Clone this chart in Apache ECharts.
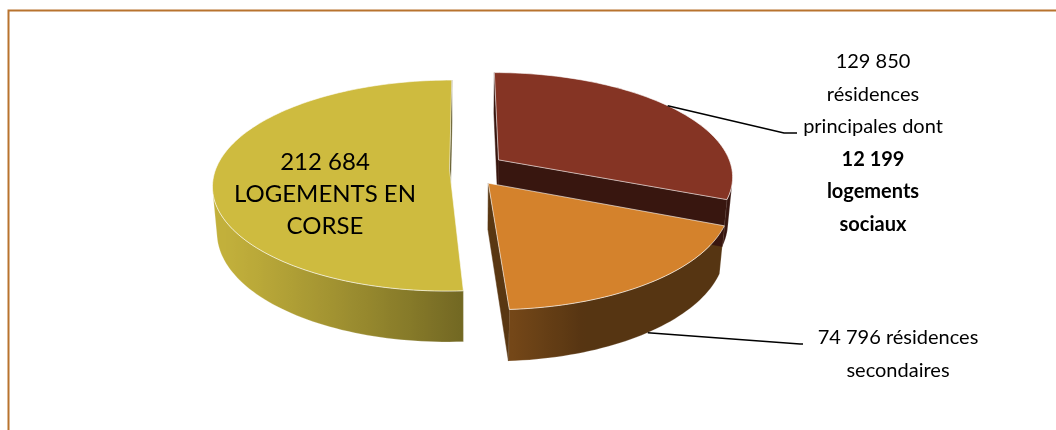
<!DOCTYPE html>
<html>
<head>
<meta charset="utf-8">
<script src="https://cdn.jsdelivr.net/npm/echarts@6/dist/echarts.min.js"></script>
<style>
  html, body { margin: 0; padding: 0; background: #fff; }
  #chart { width: 1056px; height: 430px; }
</style>
</head>
<body>
<div id="chart"></div>
<script>
// données (ordre des parts : dans le sens horaire à partir de midi)
const categories = ['résidences principales', 'résidences secondaires', 'LOGEMENTS EN CORSE'];
const values = [129850, 74796, 212684];
const socialHousing = 12199;

// style
const sliceColors = ['#853424', '#d4822c', '#cebb3f'];
const explode = [0.17, 0.16, 0.07];
const FONT = 'Lato, "Open Sans", sans-serif';

// vue 3D simulée
const RAD = Math.PI / 180;
const VIEW = { cx: 466, cy: 215, S: 230, phi: 28 * RAD, D: 6, h: 0.22 };
const LX = -0.94, LY = -0.33;   // lumière venant de la gauche

const fmt = v => String(v).replace(/\B(?=(\d{3})+(?!\d))/g, ' ');

function project(X, Y, Z) {
  const c = Math.cos(VIEW.phi), s = Math.sin(VIEW.phi);
  const depth = Y * c - Z * s;
  const v = Y * s + Z * c;
  const k = VIEW.D / (VIEW.D + depth);
  return [VIEW.cx + VIEW.S * X * k, VIEW.cy - VIEW.S * v * k];
}

function shade(hex, f) {
  const n = parseInt(hex.slice(1), 16);
  const ch = [(n >> 16) & 255, (n >> 8) & 255, n & 255].map(c => Math.max(0, Math.min(255, Math.round(c * f))));
  return 'rgb(' + ch.join(',') + ')';
}

// étiquettes
const labelTexts = [
  fmt(values[0]) + '\nrésidences\nprincipales dont\n{b|' + fmt(socialHousing) + '}\n{b|logements}\n{b|sociaux}',
  fmt(values[1]) + ' résidences\nsecondaires',
  fmt(values[2]) + '\nLOGEMENTS EN\nCORSE'
];
const labelLayout = [
  { x: 873, y: 143, size: 20, lh: 32.5, anchor: 36, anchorZ: 1, elbow: [784, 133], end: [797, 133] },
  { x: 898, y: 354, size: 20, lh: 33, anchor: -54, anchorZ: 0, elbow: [800, 344], end: [803, 344] },
  { x: 325, y: 194, size: 24, lh: 32 }
];

function renderSlice(params, api) {
  const i = params.dataIndex;
  const total = values.reduce((a, b) => a + b, 0);
  let before = 0;
  for (let j = 0; j < i; j++) before += values[j];
  const v = api.value(0);
  const a0 = (90 - 360 * before / total) * RAD;
  const a1 = a0 - 360 * v / total * RAD;
  const mid = (a0 + a1) / 2;
  const ox = explode[i] * Math.cos(mid), oy = explode[i] * Math.sin(mid);
  const h = VIEW.h;
  const rim = (t, z) => project(ox + Math.cos(t), oy + Math.sin(t), z);
  const apex = z => project(ox, oy, z);
  const cam = [0, -VIEW.D * Math.cos(VIEW.phi), VIEW.D * Math.sin(VIEW.phi)];
  const facing = (n, p) => n[0] * (cam[0] - p[0]) + n[1] * (cam[1] - p[1]) + n[2] * (cam[2] - p[2]) > 0;
  const top = sliceColors[i];
  const steps = Math.max(8, Math.ceil(Math.abs(a1 - a0) / (1.5 * RAD)));
  const children = [];

  // paroi extérieure : segments visibles regroupés en bandes continues
  const runs = [];
  let cur = null;
  for (let k = 0; k < steps; k++) {
    const t0 = a0 + (a1 - a0) * k / steps, t1 = a0 + (a1 - a0) * (k + 1) / steps;
    const tm = (t0 + t1) / 2;
    const n = [Math.cos(tm), Math.sin(tm), 0];
    if (!facing(n, [ox + n[0], oy + n[1], h / 2])) { cur = null; continue; }
    if (!cur) { cur = []; runs.push(cur); }
    cur.push({ t0, t1, f: 0.45 + 0.6 * Math.max(0, n[0] * LX + n[1] * LY), x: rim(tm, h / 2)[0] });
  }
  runs.forEach(run => {
    const upper = [rim(run[0].t0, h)], lower = [rim(run[0].t0, 0)];
    run.forEach(sg => { upper.push(rim(sg.t1, h)); lower.push(rim(sg.t1, 0)); });
    const xs = run.map(sg => sg.x);
    const xmin = Math.min(...xs), xmax = Math.max(...xs);
    const span = Math.max(1, xmax - xmin);
    const stops = run.map(sg => ({ offset: (sg.x - xmin) / span, color: shade(top, 0.9 * sg.f) }))
      .sort((p, q) => p.offset - q.offset);
    const fill = run.length > 1
      ? { type: 'linear', x: xmin, y: 0, x2: xmax, y2: 0, global: true, colorStops: stops }
      : stops[0].color;
    children.push({
      type: 'polygon', z2: 1,
      shape: { points: upper.concat(lower.reverse()) },
      style: { fill, stroke: 'rgba(255,255,255,0.35)', lineWidth: 0.6 }
    });
  });

  // faces de coupe
  [[a0, [-Math.sin(a0), Math.cos(a0), 0]], [a1, [Math.sin(a1), -Math.cos(a1), 0]]].forEach(([t, n]) => {
    const p = [ox + Math.cos(t) / 2, oy + Math.sin(t) / 2, h / 2];
    if (!facing(n, p)) return;
    const col = shade(top, 0.42);
    children.push({
      type: 'polygon', z2: 2,
      shape: { points: [apex(h), rim(t, h), rim(t, 0), apex(0)] },
      style: { fill: col, stroke: col, lineWidth: 0.5 }
    });
  });

  // dessus
  const pts = [apex(h)];
  for (let k = 0; k <= steps; k++) pts.push(rim(a0 + (a1 - a0) * k / steps, h));
  children.push({
    type: 'polygon', z2: 5,
    shape: { points: pts },
    style: { fill: top, stroke: 'rgba(255,255,255,0.6)', lineWidth: 1 }
  });

  // étiquette + ligne de rappel
  const L = labelLayout[i];
  if (L.elbow) {
    const a = rim(L.anchor * RAD, L.anchorZ * h);
    children.push({
      type: 'polyline', z2: 20,
      shape: { points: [a, L.elbow, L.end] },
      style: { stroke: '#000', lineWidth: 1.5, fill: null }
    });
  }
  children.push({
    type: 'text', z2: 21, x: L.x, y: L.y,
    style: {
      text: labelTexts[i],
      fill: '#000',
      fontFamily: FONT,
      fontSize: L.size,
      lineHeight: L.lh,
      align: 'center',
      verticalAlign: 'middle',
      rich: { b: { fontFamily: FONT, fontSize: L.size, fontWeight: 'bold', lineHeight: L.lh, fill: '#000' } }
    }
  });

  return { type: 'group', children };
}

const chart = echarts.init(document.getElementById('chart'), null, { renderer: 'canvas' });
chart.setOption({
  animation: false,
  backgroundColor: '#fff',
  graphic: [{
    type: 'polyline',
    shape: { points: [[8.5, 430], [8.5, 10.5], [1056, 10.5]] },
    style: { stroke: '#b8732e', lineWidth: 2, fill: null }
  }],
  series: [{
    type: 'custom',
    coordinateSystem: 'none',
    renderItem: renderSlice,
    data: values.map((v, i) => ({ name: categories[i], value: [v] }))
  }]
});
</script>
</body>
</html>
